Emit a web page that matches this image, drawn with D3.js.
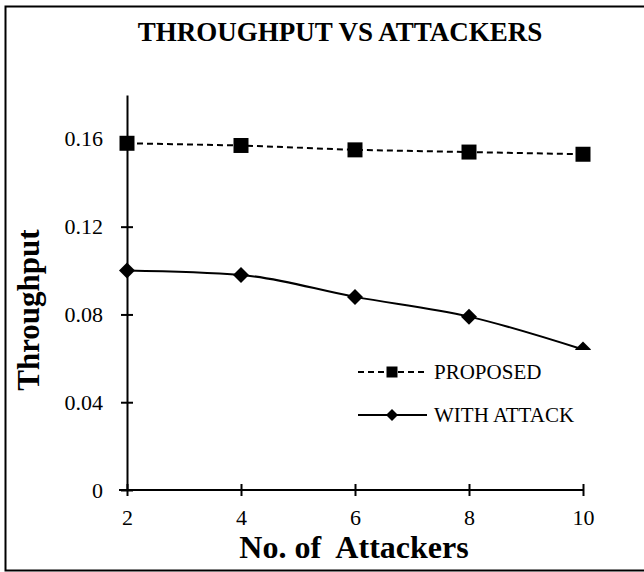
<!DOCTYPE html>
<html>
<head>
<meta charset="utf-8">
<script src="https://cdn.jsdelivr.net/npm/d3@7"></script>
<style>
  body { margin: 0; background: #fff; }
  svg { display: block; font-family: "Liberation Serif", "Times New Roman", serif; }
</style>
</head>
<body>
<svg id="chart" width="644" height="572"></svg>
<script>
// data
const attackers = [2, 4, 6, 8, 10];
const proposed = [0.158, 0.157, 0.155, 0.154, 0.153];
const withAttack = [0.100, 0.098, 0.088, 0.079, 0.064];
const yTicks = [0, 0.04, 0.08, 0.12, 0.16];
const seriesNames = ["PROPOSED", "WITH ATTACK"];

const svg = d3.select("#chart");

// outer frame
svg.append("rect")
    .attr("x", 5.5).attr("y", 6.5)
    .attr("width", 650).attr("height", 564)
    .attr("fill", "none")
    .attr("stroke", "#000")
    .attr("stroke-width", 2);

const x = d3.scaleLinear().domain([2, 10]).range([127, 583]);
const y = d3.scaleLinear().domain([0, 0.18]).range([490, 95]);

// title
svg.append("text")
    .attr("x", 340).attr("y", 41)
    .attr("text-anchor", "middle")
    .style("font-size", "27px")
    .style("font-weight", "bold")
    .text("THROUGHPUT VS ATTACKERS");

// axes
const yAxis = svg.append("g")
    .attr("transform", `translate(${x(2)},0)`)
    .call(d3.axisLeft(y).tickValues(yTicks).tickFormat(d => d === 0 ? "0" : d3.format(".2f")(d)).tickSize(0).tickPadding(24));
yAxis.select(".domain").attr("stroke-width", 2);
yAxis.selectAll(".tick line").attr("x1", -6).attr("x2", 6).attr("stroke-width", 2);

const xAxis = svg.append("g")
    .attr("transform", `translate(0,${y(0)})`)
    .call(d3.axisBottom(x).tickValues(attackers).tickSize(0).tickPadding(19));
xAxis.select(".domain").attr("stroke-width", 2).attr("d", `M${x(2) - 8},0H${x(10)}`);
xAxis.selectAll(".tick line").attr("y1", -6).attr("y2", 6).attr("stroke-width", 2);

svg.selectAll(".tick text")
    .style("font-family", "Liberation Serif, serif")
    .style("font-size", "22px")
    .attr("fill", "#000");

// axis titles
svg.append("text")
    .attr("transform", `translate(39,${y(0.082)}) rotate(-90)`)
    .attr("text-anchor", "middle")
    .style("font-size", "31px")
    .style("font-weight", "bold")
    .text("Throughput");

svg.append("text")
    .attr("x", 354).attr("y", 558)
    .attr("text-anchor", "middle")
    .style("font-size", "32px")
    .style("font-weight", "bold")
    .attr("xml:space", "preserve")
    .text("No. of  Attackers");

// series
const line = d3.line().x((d, i) => x(attackers[i])).y(d => y(d));
const curve = d3.line().x((d, i) => x(attackers[i])).y(d => y(d)).curve(d3.curveMonotoneX);

svg.append("path")
    .datum(proposed)
    .attr("d", line)
    .attr("fill", "none")
    .attr("stroke", "#000")
    .attr("stroke-width", 2)
    .attr("stroke-dasharray", "6,4");

svg.append("path")
    .datum(withAttack)
    .attr("d", curve)
    .attr("fill", "none")
    .attr("stroke", "#000")
    .attr("stroke-width", 2);

const square = d3.symbol().type(d3.symbolSquare).size(225);
const diamond = d3.symbol().type(d3.symbolSquare).size(128);

svg.selectAll(".sq")
    .data(proposed)
    .enter()
    .append("path")
    .attr("transform", (d, i) => `translate(${x(attackers[i])},${y(d)})`)
    .attr("d", square)
    .attr("fill", "#000");

svg.selectAll(".dm")
    .data(withAttack)
    .enter()
    .append("path")
    .attr("transform", (d, i) => `translate(${x(attackers[i])},${y(d)}) rotate(45)`)
    .attr("d", diamond)
    .attr("fill", "#000");

// legend (white box covers the last diamond, as in the original)
const legend = svg.append("g");
legend.append("rect")
    .attr("x", 350).attr("y", 350)
    .attr("width", 250).attr("height", 90)
    .attr("fill", "#fff");

seriesNames.forEach((name, i) => {
    const ly = 372 + i * 43;
    legend.append("line")
        .attr("x1", 358).attr("x2", 427)
        .attr("y1", ly).attr("y2", ly)
        .attr("stroke", "#000")
        .attr("stroke-width", 2)
        .attr("stroke-dasharray", i === 0 ? "6,4" : null);
    legend.append("path")
        .attr("transform", `translate(392,${ly})` + (i === 0 ? "" : " rotate(45)"))
        .attr("d", d3.symbol().type(d3.symbolSquare).size(i === 0 ? 121 : 72)())
        .attr("fill", "#000");
    legend.append("text")
        .attr("x", 434).attr("y", ly + 7)
        .style("font-size", "21px")
        .text(name);
});
</script>
</body>
</html>
